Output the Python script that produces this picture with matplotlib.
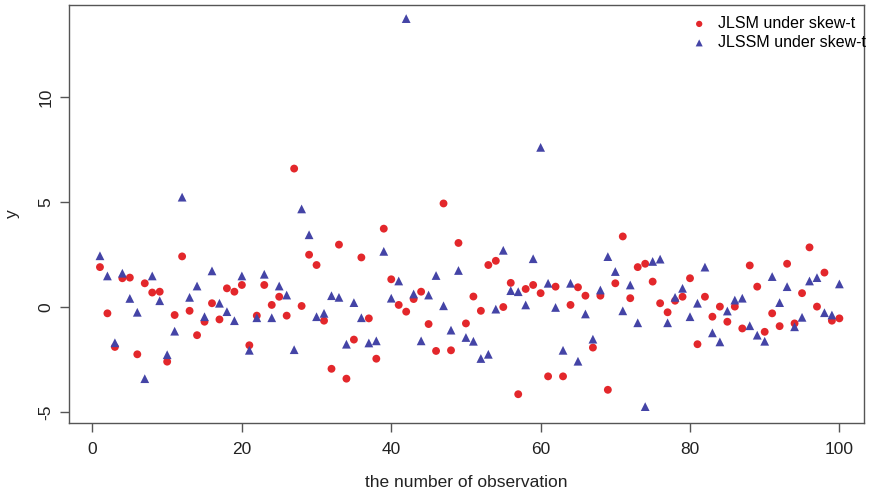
import matplotlib.pyplot as plt
import numpy as np

plt.rcParams['font.family'] = ['Liberation Sans', 'DejaVu Sans']
plt.rcParams['axes.unicode_minus'] = False

# observation index
obs = np.arange(1, 101)

# JLSM under skew-t (red dots)
jlsm = [1.9, -0.3, -1.9, 1.37, 1.4, -2.25, 1.13, 0.69, 0.73, -2.6,
        -0.38, 2.41, -0.18, -1.34, -0.7, 0.18, -0.59, 0.89, 0.73, 1.05,
        -1.82, -0.41, 1.05, 0.1, 0.49, -0.41, 6.59, 0.05, 2.49, 2.0,
        -0.65, -2.94, 2.97, -3.41, -1.55, 2.36, -0.54, -2.46, 3.73, 1.32,
        0.1, -0.22, 0.38, 0.73, -0.81, -2.09, 4.93, -2.06, 3.05, -0.78,
        0.5, -0.18, 2.0, 2.2, 0.0, 1.15, -4.15, 0.86, 1.05, 0.66,
        -3.3, 0.97, -3.3, 0.1, 0.94, 0.54, -1.93, 0.54, -3.94, 1.13,
        3.36, 0.42, 1.9, 2.06, 1.21, 0.18, -0.25, 0.3, 0.49, 1.37,
        -1.77, 0.49, -0.46, 0.02, -0.7, 0.02, -1.02, 1.98, 0.97, -1.18,
        -0.3, -0.91, 2.06, -0.78, 0.66, 2.84, 0.02, 1.64, -0.65, -0.54]

# JLSSM under skew-t (blue triangles)
jlssm = [2.44, 1.48, -1.7, 1.61, 0.41, -0.25, -3.41, 1.48, 0.3, -2.27,
         -1.15, 5.23, 0.46, 1.0, -0.46, 1.72, 0.18, -0.22, -0.65, 1.48,
         -2.06, -0.51, 1.56, -0.51, 1.0, 0.57, -2.03, 4.67, 3.44, -0.46,
         -0.3, 0.54, 0.46, -1.77, 0.21, -0.51, -1.71, -1.61, 2.65, 0.42,
         1.24, 13.73, 0.62, -1.61, 0.57, 1.5, 0.06, -1.1, 1.74, -1.45,
         -1.63, -2.45, -2.25, -0.1, 2.7, 0.78, 0.73, 0.1, 2.3, 7.6,
         1.13, -0.02, -2.06, 1.13, -2.58, -0.33, -1.53, 0.81, 2.4, 1.69,
         -0.18, 1.05, -0.75, -4.74, 2.17, 2.28, -0.75, 0.46, 0.89, -0.46,
         0.18, 1.9, -1.23, -1.66, -0.19, 0.33, 0.42, -0.89, -1.34, -1.63,
         1.45, 0.21, 0.97, -0.94, -0.49, 1.24, 1.4, -0.27, -0.38, 1.1]

red = '#e3272b'
blue = '#4444a6'
grey = '#555555'

fig = plt.figure(figsize=(8.71, 4.93), dpi=100)
ax = fig.add_axes([0.0796, 0.142, 0.9124, 0.848])

ax.scatter(obs, jlsm, s=32, marker='o', color=red, edgecolors='none',
           label='JLSM under skew-t', zorder=3)
ax.scatter(obs, jlssm, s=40, marker='^', color=blue, edgecolors='none',
           label='JLSSM under skew-t', zorder=3)

ax.set_xlim(-3.1, 103.3)
ax.set_ylim(-5.52, 14.38)
ax.set_xticks([0, 20, 40, 60, 80, 100])
ax.set_yticks([-5, 0, 5, 10])
for lab in ax.get_yticklabels():
    lab.set_rotation(90)
    lab.set_va('center')

for sp in ax.spines.values():
    sp.set_color(grey)
    sp.set_linewidth(1.0)
ax.tick_params(axis='both', colors=grey, labelcolor='#222222',
               length=6.5, width=1.0, labelsize=12.5)
ax.tick_params(axis='x', pad=7)
ax.tick_params(axis='y', pad=5)

ax.set_xlabel('the number of observation', fontsize=12.5, color='#222222',
              labelpad=13)
ax.set_ylabel('y', fontsize=12.5, color='#222222', labelpad=13)

ax.legend(loc='upper right', frameon=False, fontsize=11.5,
          markerscale=0.8, handletextpad=0.15, labelspacing=0.25,
          borderaxespad=0.3, bbox_to_anchor=(1.016, 1.0))

fig.savefig('out.png', dpi=100)
